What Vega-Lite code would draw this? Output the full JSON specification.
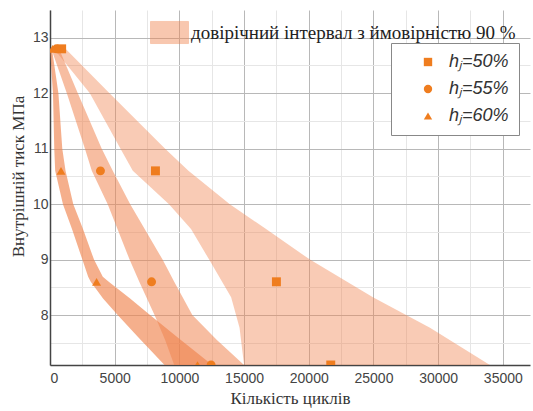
{
  "$schema": "https://vega.github.io/schema/vega-lite/v6.json",
  "autosize": {"type": "none"},
  "padding": {"left": 50, "top": 10, "right": 3, "bottom": 46},
  "width": 480,
  "height": 355,
  "background": "white",
  "config": {
    "view": {"stroke": null},
    "axis": {"labelFont": "Liberation Sans", "labelFontSize": 14, "labelColor": "#444", "titleFont": "Liberation Serif", "titleFontSize": 17, "titleFontWeight": "normal", "titleColor": "#333", "domainColor": "#444", "ticks": false, "grid": true}
  },
  "datasets": {
    "bands": [
      {"band": "60%", "y": 12.8, "xlo": 0, "xhi": 150},
      {"band": "60%", "y": 12.0, "xlo": 230, "xhi": 650},
      {"band": "60%", "y": 11.0, "xlo": 330, "xhi": 950},
      {"band": "60%", "y": 10.6, "xlo": 400, "xhi": 1200},
      {"band": "60%", "y": 10.0, "xlo": 1000, "xhi": 1800},
      {"band": "60%", "y": 9.55, "xlo": 1700, "xhi": 2550},
      {"band": "60%", "y": 9.0, "xlo": 2500, "xhi": 3400},
      {"band": "60%", "y": 8.69, "xlo": 2950, "xhi": 4080},
      {"band": "60%", "y": 8.6, "xlo": 3150, "xhi": 4540},
      {"band": "60%", "y": 8.3, "xlo": 4100, "xhi": 6190},
      {"band": "60%", "y": 8.0, "xlo": 5230, "xhi": 7730},
      {"band": "60%", "y": 7.6, "xlo": 6820, "xhi": 9850},
      {"band": "60%", "y": 7.1, "xlo": 8850, "xhi": 12540},
      {"band": "55%", "y": 12.8, "xlo": 100, "xhi": 700},
      {"band": "55%", "y": 12.0, "xlo": 1300, "xhi": 2150},
      {"band": "55%", "y": 11.0, "xlo": 2700, "xhi": 4000},
      {"band": "55%", "y": 10.6, "xlo": 3230, "xhi": 4850},
      {"band": "55%", "y": 10.0, "xlo": 4460, "xhi": 6200},
      {"band": "55%", "y": 9.0, "xlo": 6150, "xhi": 8700},
      {"band": "55%", "y": 8.6, "xlo": 6900, "xhi": 9600},
      {"band": "55%", "y": 8.0, "xlo": 8080, "xhi": 11000},
      {"band": "55%", "y": 7.55, "xlo": 8900, "xhi": 12900},
      {"band": "55%", "y": 7.1, "xlo": 9600, "xhi": 15000},
      {"band": "50%", "y": 12.8, "xlo": 300, "xhi": 1200},
      {"band": "50%", "y": 12.0, "xlo": 3080, "xhi": 4600},
      {"band": "50%", "y": 11.0, "xlo": 5450, "xhi": 8900},
      {"band": "50%", "y": 10.6, "xlo": 6400, "xhi": 10700},
      {"band": "50%", "y": 10.0, "xlo": 9200, "xhi": 13900},
      {"band": "50%", "y": 9.55, "xlo": 10900, "xhi": 16700},
      {"band": "50%", "y": 9.0, "xlo": 12300, "xhi": 20090},
      {"band": "50%", "y": 8.32, "xlo": 14000, "xhi": 24960},
      {"band": "50%", "y": 7.77, "xlo": 14650, "xhi": 29370},
      {"band": "50%", "y": 7.1, "xlo": 15000, "xhi": 34000}
    ],
    "points": [
      {"h": "hⱼ=50%", "x": 900, "y": 12.8},
      {"h": "hⱼ=50%", "x": 8150, "y": 10.6},
      {"h": "hⱼ=50%", "x": 17500, "y": 8.6},
      {"h": "hⱼ=50%", "x": 21700, "y": 7.1},
      {"h": "hⱼ=55%", "x": 500, "y": 12.8},
      {"h": "hⱼ=55%", "x": 3900, "y": 10.6},
      {"h": "hⱼ=55%", "x": 7850, "y": 8.6},
      {"h": "hⱼ=55%", "x": 12450, "y": 7.1},
      {"h": "hⱼ=60%", "x": 200, "y": 12.8},
      {"h": "hⱼ=60%", "x": 850, "y": 10.6},
      {"h": "hⱼ=60%", "x": 3600, "y": 8.6},
      {"h": "hⱼ=60%", "x": 11400, "y": 7.1}
    ]
  },
  "layer": [
    {
      "data": {"name": "bands"},
      "mark": {"type": "area", "orient": "horizontal", "clip": true},
      "encoding": {
        "y": {"field": "y", "type": "quantitative", "scale": {"domain": [7.1, 13.5], "nice": false, "zero": false}},
        "x": {"field": "xlo", "type": "quantitative", "scale": {"domain": [0, 37100], "nice": false}},
        "x2": {"field": "xhi"},
        "detail": {"field": "band"},
        "fill": {"datum": "довірічний інтервал з ймовірністю 90 %", "type": "nominal", "scale": {"range": ["#f0844f"]},
          "legend": {"title": null, "orient": "none", "legendX": 100, "legendY": 3, "symbolType": "M-1,-0.58H1V0.58H-1Z", "symbolSize": 1444, "symbolOpacity": 0.45, "symbolStrokeColor": "#f0844f", "symbolStrokeWidth": 1, "labelFont": "Liberation Serif", "labelFontSize": 19, "labelColor": "#222", "labelOffset": 2, "labelLimit": 400, "padding": 0}},
        "opacity": {"field": "band", "type": "nominal", "scale": {"domain": ["50%", "55%", "60%"], "range": [0.42, 0.65, 0.55]}, "legend": null}
      }
    },
    {
      "data": {"name": "points"},
      "mark": {"type": "point", "filled": true, "color": "#ef7d1f", "opacity": 1, "size": 80, "clip": true},
      "encoding": {
        "x": {"field": "x", "type": "quantitative",
          "axis": {"orient": "bottom", "title": "Кількість циклів", "format": "d", "tickCount": 100,
            "values": [0, 2500, 5000, 7500, 10000, 12500, 15000, 17500, 20000, 22500, 25000, 27500, 30000, 32500, 35000],
            "labelExpr": "datum.value % 5000 == 0 ? datum.label : ''",
            "gridColor": {"condition": {"test": "datum.value % 5000 == 0", "value": "#b8b8b8"}, "value": "#e6e6e6"},
            "labelOverlap": false,
            "domain": true, "domainWidth": 1.5, "labelPadding": 6, "titlePadding": 5}},
        "y": {"field": "y", "type": "quantitative", "tickCount": 100,
          "axis": {"orient": "left", "title": "Внутрішній тиск МПа", "tickCount": 100,
            "values": [7.5, 8, 8.5, 9, 9.5, 10, 10.5, 11, 11.5, 12, 12.5, 13],
            "labelExpr": "floor(datum.value) == datum.value ? format(datum.value, 'd') : ''",
            "gridColor": {"condition": {"test": "floor(datum.value) == datum.value", "value": "#b8b8b8"}, "value": "#e6e6e6"},
            "labelOverlap": false,
            "domain": true, "domainWidth": 1.5, "labelPadding": 2, "titlePadding": 5, "titleY": 166}},
        "shape": {"field": "h", "type": "nominal", "scale": {"domain": ["hⱼ=50%", "hⱼ=55%", "hⱼ=60%"], "range": ["square", "circle", "triangle-up"]},
          "legend": {"title": null, "orient": "none", "legendX": 341, "legendY": 33, "fillColor": "white", "strokeColor": "#888", "padding": 10, "symbolOffset": 18, "symbolFillColor": "#ef7d1f", "symbolStrokeColor": "#ef7d1f", "symbolStrokeWidth": 0, "symbolSize": 70, "labelFont": "Liberation Sans", "labelFontSize": 18, "labelFontStyle": "italic", "labelColor": "#333", "labelOffset": 12, "rowPadding": 9, "labelLimit": 200}}
      }
    }
  ]
}
